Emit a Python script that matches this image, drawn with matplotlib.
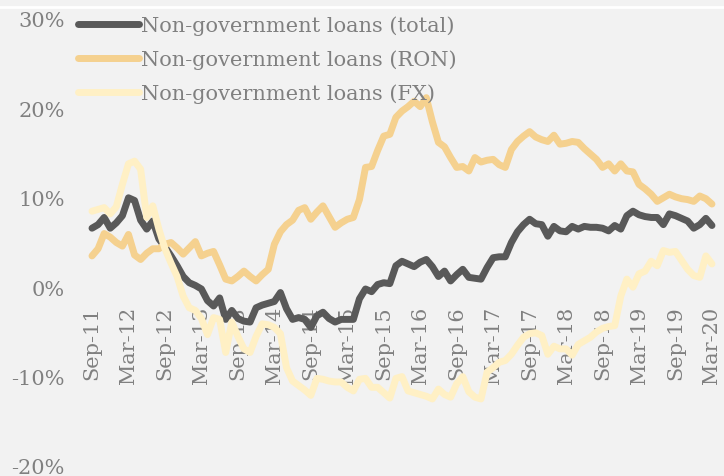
import matplotlib
matplotlib.use("Agg")
import matplotlib.pyplot as plt
from matplotlib.lines import Line2D

months = ["Sep-11", "Mar-12", "Sep-12", "Mar-13", "Sep-13", "Mar-14", "Sep-14", "Mar-15",
          "Sep-15", "Mar-16", "Sep-16", "Mar-17", "Sep-17", "Mar-18", "Sep-18", "Mar-19",
          "Sep-19", "Mar-20"]

total = [6.6, 7.0, 7.8, 6.6, 7.2, 8.0, 10.0, 9.7, 7.5, 6.5,
         7.4, 5.4, 4.5, 3.5, 2.4, 1.2, 0.5, 0.2, -0.2, -1.5,
         -2.1, -1.2, -3.6, -2.6, -3.5, -3.8, -3.9, -2.3, -2.0, -1.8,
         -1.6, -0.6, -2.4, -3.6, -3.4, -3.6, -4.5, -3.2, -2.8, -3.5,
         -3.9, -3.6, -3.6, -3.6, -1.3, -0.2, -0.5, 0.3, 0.5, 0.4,
         2.4, 2.9, 2.6, 2.3, 2.8, 3.1, 2.3, 1.2, 1.8, 0.7,
         1.4, 2.0, 1.1, 1.0, 0.9, 2.2, 3.3, 3.4, 3.4, 5.0,
         6.2, 7.0, 7.6, 7.1, 7.0, 5.7, 6.8, 6.3, 6.2, 6.8,
         6.5, 6.8, 6.7, 6.7, 6.6, 6.3, 6.9, 6.5, 8.0, 8.5,
         8.1, 7.9, 7.8, 7.8, 7.0, 8.2, 8.0, 7.7, 7.4, 6.6,
         7.0, 7.7, 6.9]

ron = [3.5, 4.3, 6.0, 5.6, 5.0, 4.6, 5.9, 3.6, 3.1, 3.8,
       4.3, 4.3, 4.8, 5.0, 4.4, 3.7, 4.4, 5.1, 3.5, 3.8,
       4.0, 2.5, 0.9, 0.7, 1.2, 1.8, 1.2, 0.7, 1.4, 2.0,
       4.8, 6.2, 7.0, 7.5, 8.6, 8.9, 7.6, 8.4, 9.1, 7.9,
       6.7, 7.2, 7.6, 7.8, 9.8, 13.4, 13.5, 15.3, 16.9, 17.1,
       19.0, 19.7, 20.2, 20.8, 20.2, 21.2, 18.5, 16.2, 15.7, 14.5,
       13.4, 13.5, 13.0, 14.5, 14.0, 14.2, 14.3, 13.7, 13.4, 15.4,
       16.3, 16.9, 17.4, 16.8, 16.5, 16.3, 17.0, 16.0, 16.1, 16.3,
       16.2, 15.5, 14.9, 14.3, 13.4, 13.8, 13.0, 13.8, 13.0, 12.9,
       11.5, 11.0, 10.4, 9.6, 10.0, 10.4, 10.1, 9.9, 9.8, 9.6,
       10.2, 9.9, 9.3]

fx = [8.5, 8.7, 8.9, 8.2, 9.0, 11.5, 13.8, 14.1, 13.2, 7.8,
      9.1, 6.5, 4.3, 2.7, 1.2, -1.0, -2.3, -2.6, -3.5, -5.3,
      -3.4, -3.6, -7.3, -3.9, -5.5, -6.9, -7.3, -5.5, -4.1, -4.2,
      -4.5, -5.2, -9.0, -10.5, -11.0, -11.5, -12.1, -10.2, -10.3, -10.5,
      -10.6, -10.6, -11.2, -11.6, -10.3, -10.2, -11.2, -11.2, -11.8, -12.4,
      -10.2, -10.0, -11.6, -11.8, -12.0, -12.2, -12.5, -11.4, -12.0, -12.3,
      -10.8, -10.0, -11.7, -12.3, -12.5, -9.5, -9.0, -8.4, -8.2, -7.5,
      -6.5, -5.6, -5.2, -5.1, -5.4, -7.5, -6.6, -6.9, -6.9, -7.6,
      -6.4, -6.0, -5.6, -5.0, -4.6, -4.4, -4.3, -1.0, 0.9, 0.0,
      1.5, 1.8, 2.9, 2.4, 4.1, 3.9, 4.0, 3.0, 2.0, 1.3,
      1.1, 3.5, 2.6]

labels = ["Non-government loans (total)", "Non-government loans (RON)",
          "Non-government loans (FX)"]
yticks = [-20, -10, 0, 10, 20, 30]

BG = "#f2f2f2"
TXT = "#808080"
FONT = "DejaVu Serif"
FS = 15

W, H = 724, 477
fig = plt.figure(figsize=(W / 100, H / 100), dpi=100, facecolor=BG)
ax = fig.add_axes([80 / W, (H - 467) / H, (722 - 80) / W, 447 / H], facecolor=BG)

x = list(range(len(total)))
l1, = ax.plot(x, total, color="#595959", lw=5, solid_capstyle="round", solid_joinstyle="round", zorder=2)
l2, = ax.plot(x, ron, color="#f5d18f", lw=5, solid_capstyle="round", solid_joinstyle="round", zorder=2.1)
l3, = ax.plot(x, fx, color="#fff0c5", lw=5, solid_capstyle="round", solid_joinstyle="round", zorder=2.2)

px_per = 6.078
ax.set_xlim((80 - 92) / px_per, (722 - 92) / px_per)
ax.set_ylim(-20, 30)

for s in ["top", "right", "left"]:
    ax.spines[s].set_visible(False)
ax.spines["bottom"].set_position(("data", 0))
ax.spines["bottom"].set_visible(False)

ax.set_xticks(range(0, len(total), 6))
ax.set_xticklabels(months, rotation=90, va="top", ha="center")
ax.set_yticks(yticks)
ax.set_yticklabels([f"{v}%" for v in yticks])
ax.tick_params(axis="x", length=0, pad=13, labelsize=FS, labelcolor=TXT)
ax.tick_params(axis="y", length=0, pad=11, labelsize=FS, labelcolor=TXT)
for t in ax.get_xticklabels() + ax.get_yticklabels():
    t.set_fontfamily(FONT)

leg = fig.legend([l1, l2, l3], labels, loc="upper left",
                 bbox_to_anchor=(72 / W, 1 - 10 / H), frameon=False,
                 prop={"family": FONT, "size": FS}, labelcolor=TXT,
                 handlelength=2.9, handletextpad=0.1, labelspacing=0.7,
                 borderaxespad=0, borderpad=0.3)

fig.add_artist(Line2D([0, 1], [1 - 8 / H, 1 - 8 / H], color="white", lw=2,
                      transform=fig.transFigure))

fig.savefig("out.png", dpi=100, facecolor=BG)
